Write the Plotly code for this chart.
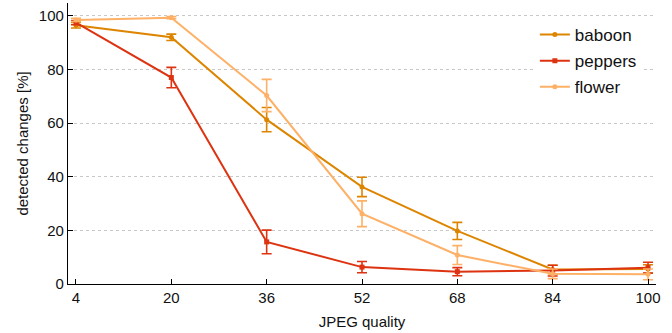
import plotly.graph_objects as go

quality = [4, 20, 36, 52, 68, 84, 100]
baboon = [96.5, 92.0, 61.3, 36.2, 19.8, 5.4, 5.6]
baboon_err = [1.0, 1.2, 4.5, 3.6, 3.2, 1.6, 1.6]
peppers = [97.5, 77.0, 15.7, 6.3, 4.6, 5.0, 6.1]
peppers_err = [0.8, 3.8, 4.4, 2.1, 1.5, 2.0, 2.0]
flower = [98.5, 99.3, 70.3, 26.2, 10.8, 3.8, 3.6]
flower_err = [0.6, 0.4, 6.0, 4.8, 3.5, 1.8, 2.0]

series = [
    ("baboon", baboon, baboon_err, "#DD8500", "circle"),
    ("peppers", peppers, peppers_err, "#DD3311", "square"),
    ("flower", flower, flower_err, "#FDB066", "circle"),
]

fig = go.Figure()
for name, vals, errs, col, sym in series:
    fig.add_trace(go.Scatter(
        x=quality, y=vals, name=name, mode="lines+markers", legendgroup=name,
        line=dict(color=col, width=2),
        marker=dict(color=col, size=5, symbol=sym),
        error_y=dict(type="data", array=errs, visible=True, color=col,
                     thickness=1.6, width=5),
    ))

font = dict(family="Liberation Sans, Arial, sans-serif", size=15, color="#111")
fig.update_layout(
    width=672, height=333,
    margin=dict(l=68, r=16, t=3, b=49),
    plot_bgcolor="white", paper_bgcolor="white",
    font=font,
    showlegend=True,
    legend=dict(x=0.794, y=0.95, xanchor="left", yanchor="top",
                bgcolor="rgba(255,255,255,1)", font=dict(size=17),
                tracegroupgap=1, itemwidth=30),
)
fig.update_xaxes(
    range=[2.66, 101.34], tickvals=quality, ticktext=[str(q) for q in quality],
    showline=True, linecolor="black", linewidth=1.2, ticks="inside", ticklen=5,
    tickcolor="black", showgrid=False, zeroline=False, automargin=False,
    tickfont=dict(size=15),
    title=dict(text="JPEG quality", standoff=11, font=dict(size=15)),
)
fig.update_yaxes(
    range=[0, 104.8], tickvals=[0, 20, 40, 60, 80, 100],
    showline=True, linecolor="black", linewidth=1.2, ticks="inside", ticklen=5,
    tickcolor="black", showgrid=True, gridcolor="#c8c8c8", griddash="dot",
    gridwidth=1, zeroline=False, automargin=False,
    tickfont=dict(size=15),
    title=dict(text="detected changes [%]", standoff=6, font=dict(size=15)),
)
fig.write_html("out.html", config={"displayModeBar": False},
               post_script="document.body.style.margin='0';")
